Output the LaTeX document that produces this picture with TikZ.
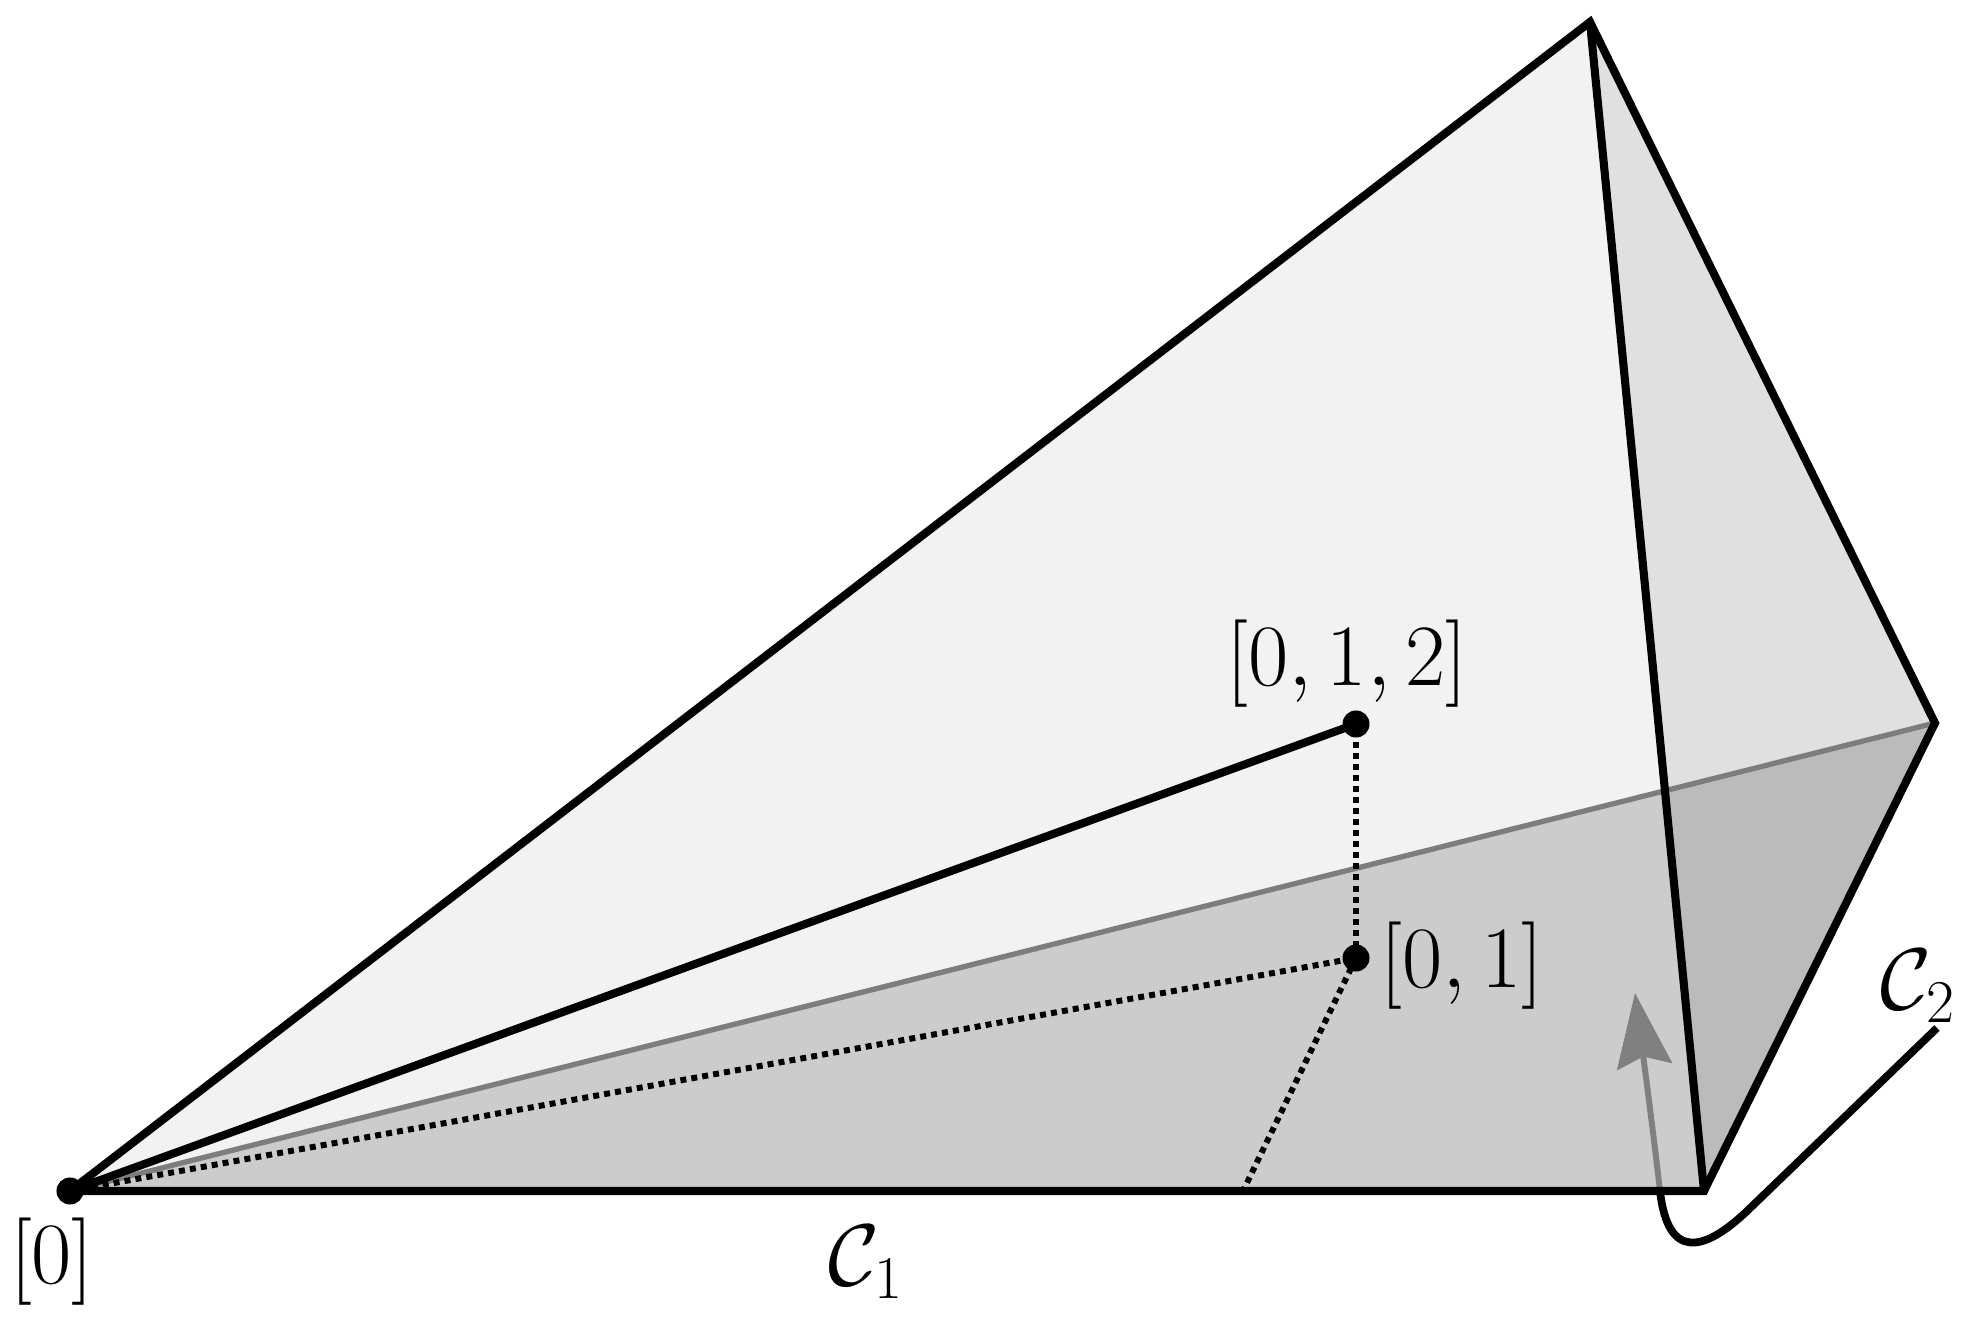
\documentclass[tikz,border=0pt]{standalone}
\usetikzlibrary{arrows.meta}
\begin{document}
\begin{tikzpicture}[x=0.01cm,y=-0.01cm,
  edge/.style={line width=2.3pt,line join=miter,line cap=round},
  hidden/.style={line width=1.7pt,dash pattern=on 1.7pt off 1.45pt},
  dot/.style={circle,fill=black,inner sep=0pt,minimum size=0.27cm},
  lbl/.style={font=\fontsize{23}{28}\selectfont,inner sep=0pt}]
\useasboundingbox (0,0) rectangle (1978,1331);
\coordinate (O) at (70,1191);
\coordinate (A) at (1590,22);
\coordinate (B) at (1704,1191);
\coordinate (R) at (1935,723);
\coordinate (P2) at (1356,724);
\coordinate (P1) at (1356,958);
\coordinate (D) at (1243,1191);
\coordinate (X) at (intersection of A--B and O--R);
\coordinate (S) at (1937,1028);
\coordinate (K) at (1660,1191);
\coordinate (T) at (1635,993);
% faces
\fill[fill={rgb,255:red,242;green,242;blue,242}] (O) -- (A) -- (B) -- cycle;
\fill[fill={rgb,255:red,224;green,224;blue,224}] (A) -- (R) -- (B) -- cycle;
\fill[fill={rgb,255:red,204;green,204;blue,204}] (O) -- (X) -- (B) -- cycle;
\fill[fill={rgb,255:red,187;green,187;blue,187}] (X) -- (R) -- (B) -- cycle;
% back edge
\draw[line width=1.5pt,color={rgb,255:red,125;green,125;blue,125}] (O) -- (R);
% hidden edges
\draw[hidden] (O) -- (P1);
\draw[hidden] (P1) -- (P2);
\draw[hidden] (P1) -- (D);
% C2 curve
\draw[line width=2.2pt] (S) -- (1745,1213) .. controls (1705,1250) and (1668,1262) .. (K);
\draw[line width=1.7pt,color={rgb,255:red,128;green,128;blue,128},
  -{Stealth[length=7.4mm,width=5.5mm,inset=1mm]}] (K) .. controls (1653,1130) and (1645,1070) .. (T);
% visible edges
\draw[edge] (O) -- (A) -- (R) -- (B) -- cycle;
\draw[edge] (A) -- (B);
\draw[edge] (O) -- (P2);
% dots
\node[dot] (dO) at (O) {};
\node[dot] (dP2) at (P2) {};
\node[dot] (dP1) at (P1) {};
% labels
\node[lbl] (l0) at (52,1262) {$[0]$};
\node[lbl] (l012) at (1347,664) {$[0,1,2]$};
\node[lbl] (l01) at (1462,966) {$[0,1]$};
\node[lbl] (lc1) at (866,1262) {$\mathcal{C}_1$};
\node[lbl] (lc2) at (1918,986) {$\mathcal{C}_2$};
\end{tikzpicture}
\end{document}
